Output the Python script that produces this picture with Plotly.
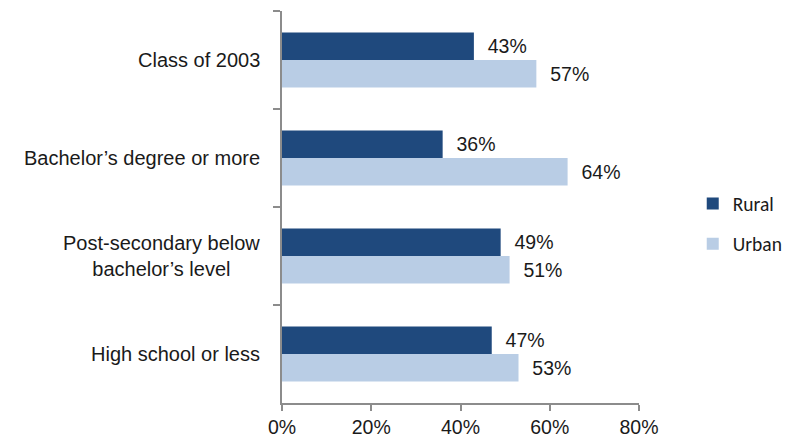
import plotly.graph_objects as go

categories = ["Class of 2003", "Bachelor’s degree or more",
              "Post-secondary below<br>bachelor’s level", "High school or less"]
rural = [43, 36, 49, 47]
urban = [57, 64, 51, 53]
x_ticks = [0, 20, 40, 60, 80]
x_ticklabels = ["0%", "20%", "40%", "60%", "80%"]

FONT = "Liberation Sans, Arial, sans-serif"
AXIS = "#8c8c8c"
FS = 19.5
PAD = "\u00a0\u00a0"

fig = go.Figure()
fig.add_trace(go.Bar(
    y=categories, x=rural, orientation="h", name="Rural",
    marker=dict(color="#1F497D", line=dict(width=0)),
    text=[f"{PAD}{v}%" for v in rural], textposition="outside",
    textfont=dict(size=FS, color="#1a1a1a", family=FONT),
    cliponaxis=False, legendgroup="r"))
fig.add_trace(go.Bar(
    y=categories, x=urban, orientation="h", name="Urban",
    marker=dict(color="#B9CDE5", line=dict(width=0)),
    text=[f"{PAD}{v}%" for v in urban], textposition="outside",
    textfont=dict(size=FS, color="#1a1a1a", family=FONT),
    cliponaxis=False, legendgroup="u"))

for c in categories:
    fig.add_annotation(x=-0.055, xref="paper", y=c, yref="y", text=c,
                       showarrow=False, xanchor="right", yanchor="middle",
                       align="center", font=dict(size=20, color="#1a1a1a", family=FONT))

fig.update_layout(
    width=789, height=445,
    margin=dict(l=282, r=150, t=11, b=42, autoexpand=False),
    paper_bgcolor="white", plot_bgcolor="white",
    barmode="group", bargap=0.44, bargroupgap=0,
    font=dict(family=FONT, size=FS, color="#1a1a1a"),
    uniformtext=dict(mode=False),
    legend=dict(xref="container", yref="container", x=0.878, y=0.497,
                xanchor="left", yanchor="middle",
                font=dict(size=19.5, color="#1a1a1a", family="Carlito, Liberation Sans, sans-serif"),
                tracegroupgap=12, itemwidth=30, bgcolor="rgba(0,0,0,0)"),
    xaxis=dict(range=[0, 80], tickvals=x_ticks, ticktext=x_ticklabels,
               showgrid=False, zeroline=False, showline=True, linecolor=AXIS, linewidth=2,
               ticks="outside", ticklen=6, tickwidth=2, tickcolor=AXIS,
               tickfont=dict(size=FS, family=FONT, color="#1a1a1a")),
    yaxis=dict(autorange="reversed", showgrid=False, zeroline=False,
               showline=True, linecolor=AXIS, linewidth=2,
               ticks="outside", tickson="boundaries", ticklen=7, tickwidth=2, tickcolor=AXIS,
               showticklabels=False),
)

fig.write_html("out.html")
